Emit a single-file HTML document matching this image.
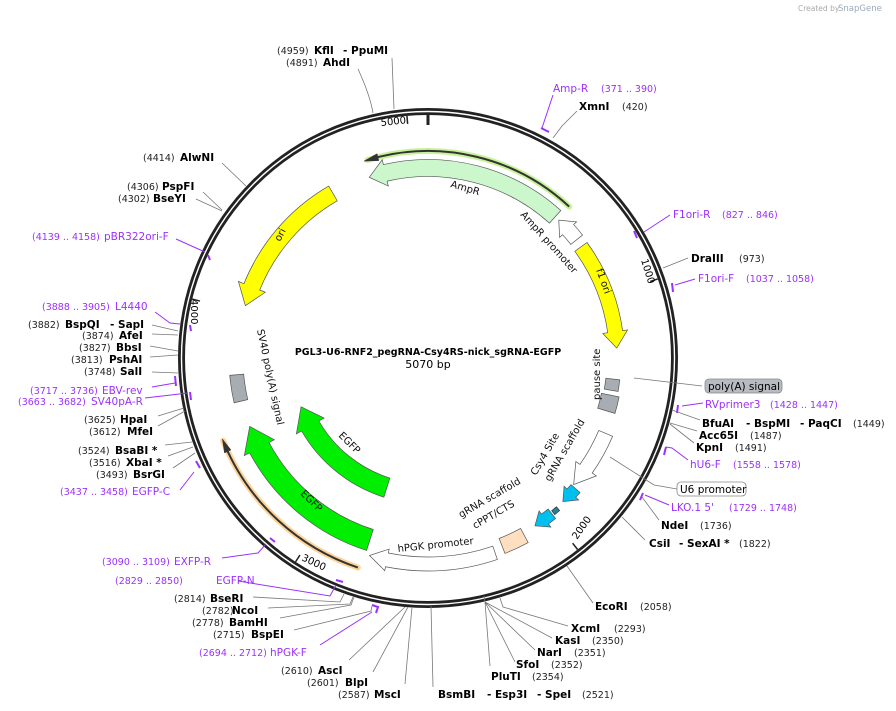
<!DOCTYPE html>
<html><head><meta charset="utf-8"><style>
html,body{margin:0;padding:0;background:#fff;}
svg{display:block;font-family:"DejaVu Sans","Liberation Sans",sans-serif;}
.e{font-weight:bold;font-size:10.5px;fill:#000}
.n{font-size:9.5px;fill:#222}
.p{font-size:10.5px;fill:#9b30ff}
.pn{font-size:9.5px;fill:#9b30ff}
.l{stroke:#777;stroke-width:0.8;fill:none}
.pl{stroke:#9b30ff;stroke-width:1;fill:none}
.pt{stroke:#9b30ff;stroke-width:2;fill:none}
.f{font-size:10px;fill:#111}
</style></head><body>
<svg id="s" width="896" height="711" viewBox="0 0 896 711" xmlns="http://www.w3.org/2000/svg">
<g id="feat"></g>
<circle cx="428" cy="358" r="246.5" fill="none" stroke="#222" stroke-width="7"/>
<circle cx="428" cy="358" r="246.5" fill="none" stroke="#fff" stroke-width="1.4"/>
<g id="ticks"></g>
<text x="798" y="11" font-size="7.5" fill="#aaa">Created by</text>
<text x="838" y="11" font-size="8.5" fill="#9ab">SnapGene</text>

<text x="428" y="355" text-anchor="middle" font-weight="bold" font-size="9.5">PGL3-U6-RNF2_pegRNA-Csy4RS-nick_sgRNA-EGFP</text>
<text x="428" y="368" text-anchor="middle" font-size="11">5070 bp</text>

<text class="f" transform="translate(450,187) rotate(16)">AmpR</text>
<text class="f" transform="translate(520,215) rotate(48)">AmpR promoter</text>
<text class="f" transform="translate(596,270) rotate(70)">f1 ori</text>
<text class="f" transform="translate(280,242) rotate(-62)">ori</text>
<text class="f" transform="translate(600,400) rotate(-90)">pause site</text>
<text class="f" transform="translate(257,330) rotate(78)">SV40 poly(A) signal</text>
<text class="f" transform="translate(338,436) rotate(45)">EGFP</text>
<text class="f" transform="translate(300,494) rotate(45)">EGFP</text>
<text class="f" transform="translate(398,552) rotate(-6)">hPGK promoter</text>
<text class="f" transform="translate(461,518) rotate(-30)">gRNA scaffold</text>
<text class="f" transform="translate(475,529) rotate(-30)">cPPT/CTS</text>
<text class="f" transform="translate(536,476) rotate(-60)">Csy4 Site</text>
<text class="f" transform="translate(550,482) rotate(-60)">gRNA scaffold</text>

<text class="n" x="277" y="54">(4959)</text><text class="e" x="314" y="54">KflI</text><text class="e" x="343" y="54">- PpuMI</text>
<text class="n" x="286" y="66">(4891)</text><text class="e" x="323" y="66">AhdI</text>
<path class="l" d="M392,58 L394,109 M358,69 Q370,95 373,113"/>
<text class="p" x="553" y="92">Amp-R</text><text class="pn" x="601" y="92">(371 .. 390)</text>
<path class="pl" d="M553,95 L542,128"/><path class="pt" d="M541,128 L549,132"/>
<text class="e" x="579" y="110">XmnI</text><text class="n" x="622" y="110">(420)</text>
<path class="l" d="M577,111 L562,126 L553,138"/>
<text class="p" x="673" y="218">F1ori-R</text><text class="pn" x="722" y="218">(827 .. 846)</text>
<path class="pl" d="M670,215 L644,232"/><path class="pt" d="M634,231 L637,238"/>
<text class="e" x="691" y="262">DraIII</text><text class="n" x="739" y="262">(973)</text>
<path class="l" d="M688,258 L663,268"/>
<text class="p" x="698" y="282">F1ori-F</text><text class="pn" x="746" y="282">(1037 .. 1058)</text>
<path class="pl" d="M695,279 L675,285"/><path class="pt" d="M672,283 L673,292"/>
<path class="l" d="M634,378 L702,386"/>
<rect x="705" y="379" width="77" height="14" rx="4" fill="#b8bcc2" stroke="#888" stroke-width="0.8"/>
<text x="708" y="390" font-size="10.5">poly(A) signal</text>
<text class="p" x="705" y="408">RVprimer3</text><text class="pn" x="770" y="408">(1428 .. 1447)</text>
<path class="pl" d="M703,403 L682,406"/><path class="pt" d="M678,405 L677,413"/>
<text class="e" x="702" y="427">BfuAI</text><text class="e" x="746" y="427">- BspMI</text><text class="e" x="800" y="427">- PaqCI</text><text class="n" x="853" y="427">(1449)</text>
<path class="l" d="M700,420 L672,410"/>
<text class="e" x="699" y="439">Acc65I</text><text class="n" x="750" y="439">(1487)</text>
<path class="l" d="M697,431 L670,423"/>
<text class="e" x="696" y="451">KpnI</text><text class="n" x="735" y="451">(1491)</text>
<path class="l" d="M694,443 L670,424"/>
<text class="p" x="690" y="468">hU6-F</text><text class="pn" x="733" y="468">(1558 .. 1578)</text>
<path class="pl" d="M688,460 L672,448 L666,447"/><path class="pt" d="M666,447 L664,455"/>
<path class="l" d="M610,457 L654,485 L677,489"/>
<rect x="677" y="482" width="69" height="14" rx="4" fill="#fff" stroke="#888" stroke-width="0.8"/>
<text x="680" y="493" font-size="10.5">U6 promoter</text>
<text class="p" x="671" y="511">LKO.1 5'</text><text class="pn" x="729" y="511">(1729 .. 1748)</text>
<path class="pl" d="M669,505 L645,495"/><path class="pt" d="M643,493 L640,500"/>
<text class="e" x="661" y="529">NdeI</text><text class="n" x="700" y="529">(1736)</text>
<path class="l" d="M659,520 L642,497"/>
<text class="e" x="649" y="547">CsiI</text><text class="e" x="679" y="547">- SexAI *</text><text class="n" x="739" y="547">(1822)</text>
<path class="l" d="M645,540 L622,517"/>
<text class="e" x="595" y="610">EcoRI</text><text class="n" x="640" y="610">(2058)</text>
<path class="l" d="M593,603 L567,566"/>
<text class="e" x="571" y="632">XcmI</text><text class="n" x="614" y="632">(2293)</text>
<path class="l" d="M568,626 L503,607 L500,598"/>
<text class="e" x="555" y="644">KasI</text><text class="n" x="592" y="644">(2350)</text>
<text class="e" x="537" y="656">NarI</text><text class="n" x="574" y="656">(2351)</text>
<text class="e" x="516" y="668">SfoI</text><text class="n" x="551" y="668">(2352)</text>
<text class="e" x="491" y="680">PluTI</text><text class="n" x="532" y="680">(2354)</text>
<path class="l" d="M552,638 L485,602 M535,650 L485,602 M515,662 L485,602 M490,666 L485,602 L484,596"/>
<text class="e" x="438" y="698">BsmBI</text><text class="e" x="487" y="698">- Esp3I</text><text class="e" x="537" y="698">- SpeI</text><text class="n" x="582" y="698">(2521)</text>
<path class="l" d="M433,687 L431,606"/>
<text class="n" x="338" y="698">(2587)</text><text class="e" x="374" y="698">MscI</text>
<path class="l" d="M405,684 L412,607"/>
<text class="n" x="307" y="686">(2601)</text><text class="e" x="345" y="686">BlpI</text>
<path class="l" d="M373,672 L408,607"/>
<text class="n" x="281" y="674">(2610)</text><text class="e" x="318" y="674">AscI</text>
<path class="l" d="M349,660 L405,607"/>
<text class="pn" x="199" y="656">(2694 .. 2712)</text><text class="p" x="270" y="656">hPGK-F</text>
<path class="pl" d="M320,645 L372,612"/><path class="pt" d="M372,605 L378,607 L376,613"/>
<text class="n" x="213" y="638">(2715)</text><text class="e" x="251" y="638">BspEI</text>
<path class="l" d="M294,630 L371,611 L372,606"/>
<text class="n" x="192" y="626">(2778)</text><text class="e" x="229" y="626">BamHI</text>
<path class="l" d="M280,618 L351,605 L354,597"/>
<text class="n" x="202" y="614">(2782)</text><text class="e" x="232" y="614">NcoI</text>
<path class="l" d="M268,608 L350,604 L353,597"/>
<text class="n" x="174" y="602">(2814)</text><text class="e" x="210" y="602">BseRI</text>
<path class="l" d="M253,597 L340,602 L344,594"/>
<text class="pn" x="115" y="584">(2829 .. 2850)</text><text class="p" x="216" y="584">EGFP-N</text>
<path class="pl" d="M238,581 L330,596 L336,585"/><path class="pt" d="M336,580 L343,582"/>
<text class="pn" x="102" y="565">(3090 .. 3109)</text><text class="p" x="174" y="565">EXFP-R</text>
<path class="pl" d="M222,558 L258,553 L266,544"/><path class="pt" d="M270,538 L275,542"/>
<text class="pn" x="60" y="495">(3437 .. 3458)</text><text class="p" x="132" y="495">EGFP-C</text>
<path class="pl" d="M180,490 L194,472"/><path class="pt" d="M196,461 L200,468"/>
<text class="n" x="96" y="478">(3493)</text><text class="e" x="133" y="478">BsrGI</text>
<path class="l" d="M173,468 L195,453"/>
<text class="n" x="89" y="466">(3516)</text><text class="e" x="126" y="466">XbaI *</text>
<path class="l" d="M168,456 L193,447"/>
<text class="n" x="78" y="454">(3524)</text><text class="e" x="115" y="454">BsaBI *</text>
<path class="l" d="M165,445 L192,442"/>
<text class="n" x="89" y="435">(3612)</text><text class="e" x="127" y="435">MfeI</text>
<path class="l" d="M158,426 L185,411"/>
<text class="n" x="84" y="423">(3625)</text><text class="e" x="120" y="423">HpaI</text>
<path class="l" d="M158,416 L184,408"/>
<text class="pn" x="18" y="405">(3663 .. 3682)</text><text class="p" x="91" y="405">SV40pA-R</text>
<path class="pl" d="M145,398 L188,393"/><path class="pt" d="M190,392 L191,400"/>
<text class="pn" x="30" y="394">(3717 .. 3736)</text><text class="p" x="102" y="394">EBV-rev</text>
<path class="pl" d="M152,387 L175,383"/><path class="pt" d="M175,376 L176,386"/>
<text class="n" x="84" y="375">(3748)</text><text class="e" x="120" y="375">SalI</text>
<path class="l" d="M152,372 L178,373"/>
<text class="n" x="71" y="363">(3813)</text><text class="e" x="109" y="363">PshAI</text>
<path class="l" d="M150,357 L178,355"/>
<text class="n" x="79" y="351">(3827)</text><text class="e" x="116" y="351">BbsI</text>
<path class="l" d="M150,346 L178,351"/>
<text class="n" x="82" y="339">(3874)</text><text class="e" x="119" y="339">AfeI</text>
<path class="l" d="M152,334 L178,335"/>
<text class="n" x="28" y="328">(3882)</text><text class="e" x="65" y="328">BspQI</text><text class="e" x="110" y="328">- SapI</text>
<path class="l" d="M152,325 L178,331"/>
<text class="pn" x="42" y="310">(3888 .. 3905)</text><text class="p" x="115" y="310">L4440</text>
<path class="pl" d="M155,312 L170,323 L180,324"/><path class="pt" d="M190,325 L191,331"/>
<text class="pn" x="32" y="240">(4139 .. 4158)</text><text class="p" x="104" y="240">pBR322ori-F</text>
<path class="pl" d="M176,239 L205,252"/><path class="pt" d="M208,255 L210,260"/>
<text class="n" x="118" y="202">(4302)</text><text class="e" x="153" y="202">BseYI</text>
<path class="l" d="M196,199 L222,211"/>
<text class="n" x="127" y="190">(4306)</text><text class="e" x="162" y="190">PspFI</text>
<path class="l" d="M203,192 L222,210"/>
<text class="n" x="143" y="161">(4414)</text><text class="e" x="180" y="161">AlwNI</text>
<path class="l" d="M222,163 L246,186"/>
</svg>
<script>
(function(){
var CX=428,CY=358,NS="http://www.w3.org/2000/svg";
function P(a,r){var t=a*Math.PI/180;return [CX+r*Math.sin(t),CY-r*Math.cos(t)];}
function f(p){return p[0].toFixed(2)+","+p[1].toFixed(2);}
function arc(a1,a2,r){var sw=a2>a1?1:0,lg=Math.abs(a2-a1)>180?1:0;return "A"+r+","+r+" 0 "+lg+","+sw+" "+f(P(a2,r));}
function arrow(a1,a2,r,w,h,fl){var ri=r-w/2,ro=r+w/2,d=a2>a1?1:-1,hs=a2-d*h;
 return "M"+f(P(a1,ro))+arc(a1,hs,ro)+"L"+f(P(hs,ro+fl))+"L"+f(P(a2,r))+"L"+f(P(hs,ri-fl))+"L"+f(P(hs,ri))+arc(hs,a1,ri)+"Z";}
function block(a1,a2,r,w){var ri=r-w/2,ro=r+w/2;return "M"+f(P(a1,ro))+arc(a1,a2,ro)+"L"+f(P(a2,ri))+arc(a2,a1,ri)+"Z";}
var g=document.getElementById("feat");
function add(d,fill,stroke,sw,extra){var p=document.createElementNS(NS,"path");p.setAttribute("d",d);p.setAttribute("fill",fill);p.setAttribute("stroke",stroke);p.setAttribute("stroke-width",sw||0.7);if(extra)for(var k in extra)p.setAttribute(k,extra[k]);g.appendChild(p);}
add("M"+f(P(43,207))+arc(43,-17,207),"none","#c8f29a",6,{"stroke-linecap":"round"});
add("M"+f(P(43,207))+arc(43,-16,207),"none","#333",2);
add(arrow(-14,-18,207,0.1,4,3.5),"#333","#333",0.5);
add("M"+f(P(198.5,221))+arc(198.5,248,221),"none","#fdd59a",6,{"stroke-linecap":"round"});
add("M"+f(P(198.5,221))+arc(198.5,247,221),"none","#333",2);
add(arrow(245,248.5,221,0.1,3.5,3.5),"#333","#333",0.5);
add(arrow(42,-18,190,17,5,5),"#ccf7cc","#555");
add(arrow(51.5,43.5,190,15,4,4),"#fff","#555");
add(arrow(54,87,189,15,5,5),"#ffff00","#555");
add(arrow(-30,-74,190,17,6,6),"#ffff00","#555");
add(block(96.5,100,186,14),"#a8adb4","#555");
add(block(101.5,106.5,186,18),"#a8adb4","#555");
add(block(257,265,192,14),"#a8adb4","#555");
add(arrow(113,131,193,15,6,5),"#fff","#555");
add(arrow(131.5,136.8,197,12,3.5,4),"#00c0f0","#555");
add(arrow(141.5,147.5,199,12,3.5,4),"#00c0f0","#555");
add(block(139.2,141,199,5),"#2a7f90","#333");
add(block(151.5,158.5,202,16),"#ffdfc0","#555");
add(arrow(161,196.5,206,14,5,4),"#fff","#555");
add(arrow(197.7,249,191,22,7,6),"#00ee00","#555");
add(arrow(197.6,249,136,20,9,6),"#00ee00","#555");
var t=document.getElementById("ticks");
[0,1000,2000,3000,4000,5000].forEach(function(n){var a=n/5070*360,p1=P(a,n?243:245),p2=P(a,n?235:233);
 var l=document.createElementNS(NS,"line");l.setAttribute("x1",p1[0]);l.setAttribute("y1",p1[1]);l.setAttribute("x2",p2[0]);l.setAttribute("y2",p2[1]);l.setAttribute("stroke","#222");l.setAttribute("stroke-width",n?1.5:3);t.appendChild(l);});
var lab=[[5000,"5000",381,126,-6],[1000,"1000",641,260,73],[2000,"2000",577,540,-55],[3000,"3000",301,560,25],[4000,"4000",191,299,90]];
lab.forEach(function(q){var e=document.createElementNS(NS,"text");e.textContent=q[1];e.setAttribute("font-size","10");e.setAttribute("transform","translate("+q[2]+","+q[3]+") rotate("+q[4]+")");t.appendChild(e);});
})();
</script>
</body></html>
